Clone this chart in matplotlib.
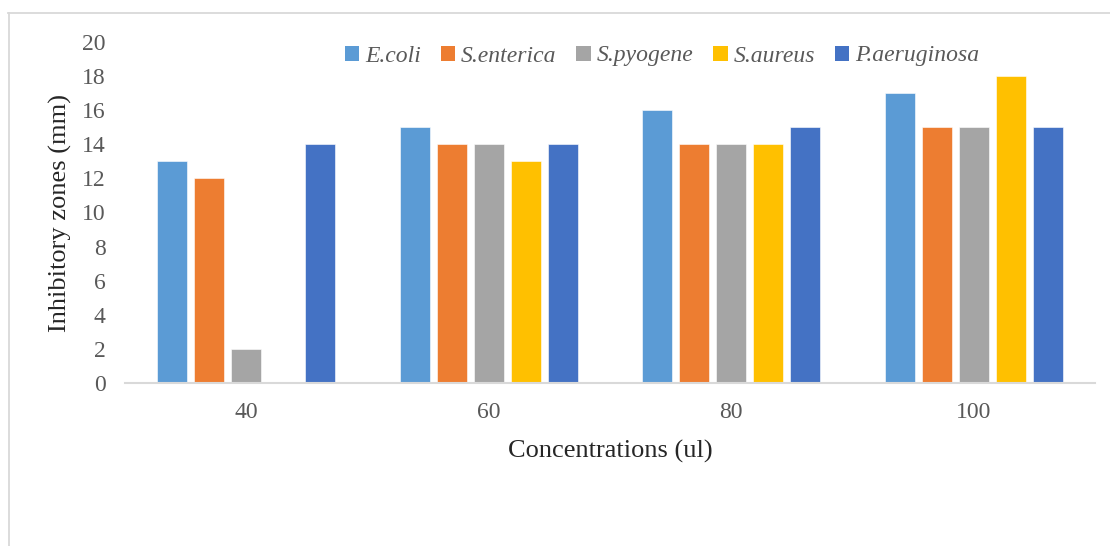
import matplotlib
matplotlib.use("Agg")
import matplotlib.pyplot as plt
from matplotlib.lines import Line2D
from matplotlib.patches import Patch
import numpy as np

plt.rcParams['font.family'] = ['Liberation Serif', 'DejaVu Serif']

concentrations = ["40", "60", "80", "100"]
organisms = ["E.coli", "S.enterica", "S.pyogene", "S.aureus", "P.aeruginosa"]
ecoli = [13, 15, 16, 17]
senterica = [12, 14, 14, 15]
spyogene = [2, 14, 14, 15]
saureus = [0, 13, 14, 18]
paeruginosa = [14, 14, 15, 15]
series = [ecoli, senterica, spyogene, saureus, paeruginosa]
colors = ["#5B9BD5", "#ED7D31", "#A5A5A5", "#FFC000", "#4472C4"]
yticks = list(range(0, 21, 2))

W, H = 1110, 546
fig = plt.figure(figsize=(W / 100, H / 100), dpi=100)
ax = fig.add_axes([125 / W, 1 - 383 / H, (1095 - 125) / W, (383 - 42) / H])

x = np.arange(len(concentrations))
step = 0.153
width = 0.124
for i, (vals, col) in enumerate(zip(series, colors)):
    ax.bar(x + (i - 2) * step, vals, width=width, color=col,
           edgecolor="white", linewidth=0.4, zorder=2)

ax.set_xlim(-0.5, len(concentrations) - 0.5)
ax.set_ylim(0, 20)
ax.set_yticks(yticks)
ax.set_xticks(x)
ax.set_xticklabels(concentrations)
ax.tick_params(axis="both", length=0, labelsize=17, colors="#595959")
ax.tick_params(axis="y", pad=14)
ax.tick_params(axis="x", pad=14)
for s in ["top", "right", "left"]:
    ax.spines[s].set_visible(False)
ax.spines["bottom"].set_color("#D9D9D9")
ax.spines["bottom"].set_linewidth(1.5)

ax.set_xlabel("Concentrations (ul)", fontsize=19, color="#262626", labelpad=12)
ax.set_ylabel("Inhibitory zones (mm)", fontsize=19, color="#262626", labelpad=7)

handles = [Patch(facecolor=c, edgecolor="none") for c in colors]
fig.legend(handles, organisms, loc="center", bbox_to_anchor=(662 / W, 1 - 56 / H),
           ncol=5, frameon=False, handlelength=0.6, handleheight=0.6,
           handletextpad=0.25, columnspacing=0.85,
           prop={"family": "Liberation Serif", "style": "italic", "size": 17},
           labelcolor="#595959")

# chart frame
fig.add_artist(Line2D([8 / W, 1.0], [1 - 13 / H, 1 - 13 / H], color="#D9D9D9", lw=1.3))
fig.add_artist(Line2D([9 / W, 9 / W], [1 - 13 / H, 0.0], color="#D9D9D9", lw=1.3))

fig.savefig("out.png", dpi=100)
